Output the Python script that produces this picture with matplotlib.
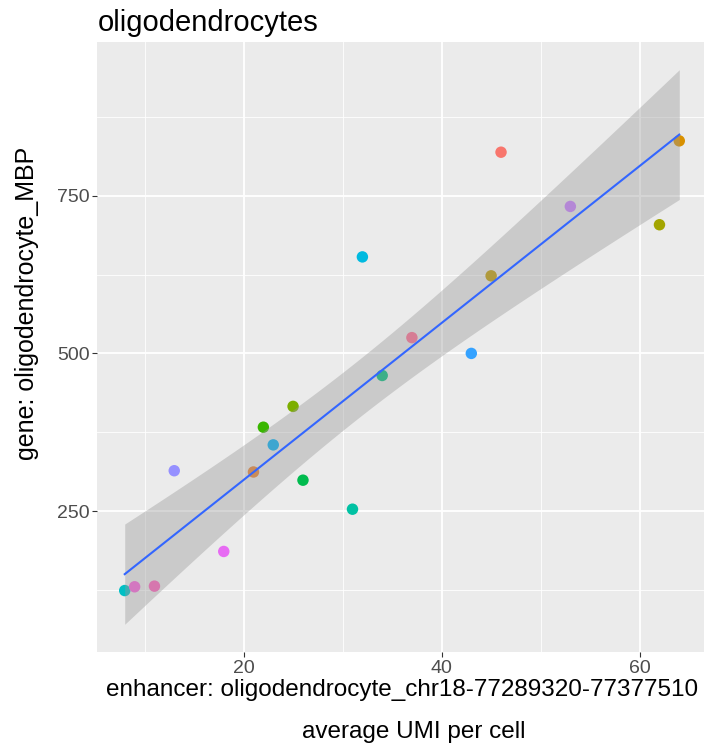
import matplotlib
matplotlib.use("Agg")
import matplotlib.pyplot as plt
import numpy as np

plt.rcParams['font.family'] = ['Liberation Sans', 'DejaVu Sans']

# average UMI per cell, one point per sample
enhancer_umi = [46, 64, 53, 62, 32, 45, 37, 43, 34, 25,
                22, 23, 13, 21, 26, 31, 18, 8, 9, 11]
gene_umi = [819, 837, 733, 704, 653, 623, 525, 500, 465, 416,
            383, 355, 314, 312, 299, 253, 186, 124, 130, 131]
point_colors = ['#F8766D', '#D89000', '#C77CFF', '#A3A500', '#00BAE0', '#C09B00',
                '#FF6C91', '#35A2FF', '#00BF7D', '#7CAE00', '#39B600', '#00B0F6',
                '#9590FF', '#EA8331', '#00BB4E', '#00C1A3', '#E76BF3', '#00BFC4',
                '#FA62DB', '#FF62BC']

x = np.array(enhancer_umi, dtype=float)
y = np.array(gene_umi, dtype=float)

# linear fit + 95% confidence band (like geom_smooth(method="lm"))
n = len(x)
slope, icept = np.polyfit(x, y, 1)
resid = y - (slope * x + icept)
s = np.sqrt(np.sum(resid ** 2) / (n - 2))
xs = np.linspace(x.min(), x.max(), 100)
ys = slope * xs + icept
se = s * np.sqrt(1 / n + (xs - x.mean()) ** 2 / np.sum((x - x.mean()) ** 2))
tval = 2.1009  # t(0.975, df=18)
lo = ys - tval * se
hi = ys + tval * se

fig = plt.figure(figsize=(7.04, 7.44), dpi=100)
ax = fig.add_axes([97 / 704, 1 - 652 / 744, 610 / 704, 610 / 744])
ax.set_facecolor('#EBEBEB')

ax.scatter(x, y, c=point_colors, s=68, linewidths=0, zorder=2)
ax.fill_between(xs, lo, hi, color='#999999', alpha=0.4, linewidth=0, zorder=3)
ax.plot(xs, ys, color='#3366FF', lw=1.5, zorder=4)

xspan = x.max() - x.min()
ax.set_xlim(x.min() - 0.05 * xspan, x.max() + 0.05 * xspan)
ymin, ymax = min(lo.min(), y.min()), max(hi.max(), y.max())
yspan = ymax - ymin
ax.set_ylim(ymin - 0.05 * yspan, ymax + 0.05 * yspan)

ax.set_xticks([20, 40, 60])
ax.set_xticks([10, 30, 50], minor=True)
ax.set_yticks([250, 500, 750])
ax.set_yticks([125, 375, 625, 875], minor=True)
ax.grid(which='major', color='white', lw=1.3)
ax.grid(which='minor', color='white', lw=0.6)
ax.set_axisbelow(True)
for sp in ax.spines.values():
    sp.set_visible(False)
ax.tick_params(which='major', length=3.5, width=0.8, color='#333333',
               labelsize=14, labelcolor='#4D4D4D', pad=2)
ax.tick_params(which='minor', length=0)

fig.text(98 / 704, 1 - 31 / 744, 'oligodendrocytes', fontsize=21, ha='left', va='baseline')
fig.text(402 / 704, 1 - 690 / 744, 'enhancer: oligodendrocyte_chr18-77289320-77377510',
         fontsize=17.5, ha='center', va='center')
fig.text(414 / 704, 1 - 732 / 744, 'average UMI per cell', fontsize=17.5,
         ha='center', va='center')
fig.text(27 / 704, 1 - 303 / 744, 'gene: oligodendrocyte_MBP', fontsize=18,
         rotation=90, ha='center', va='center')

fig.savefig('out.png', dpi=100)
